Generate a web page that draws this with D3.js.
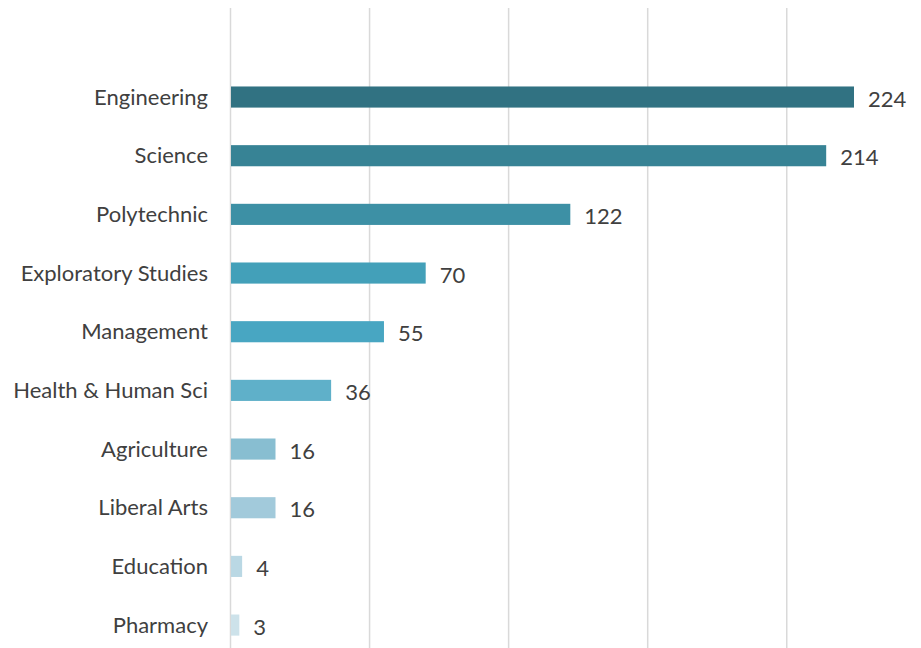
<!DOCTYPE html>
<html><head><meta charset="utf-8">
<script src="https://cdn.jsdelivr.net/npm/d3@7"></script>
<style>body{margin:0;background:#fff}svg{display:block}</style>
</head><body>
<script>
const categories = ["Engineering","Science","Polytechnic","Exploratory Studies","Management","Health & Human Sci","Agriculture","Liberal Arts","Education","Pharmacy"];
const values = [224,214,122,70,55,36,16,16,4,3];
const colors = ["#317282","#378395","#3d90a5","#43a0b9","#48a6c2","#5fb0c9","#88bed1","#a2cadb","#bad8e4","#cde2ea"];
const ticks = [0,50,100,150,200];

const W=921,H=648;
const svg=d3.select("body").append("svg").attr("width",W).attr("height",H);
const x=d3.scaleLinear().domain([0,224]).range([231,854]);
const y=d3.scaleBand().domain(categories).range([67.7,654.4]).paddingInner(0.64).paddingOuter(0.32);

svg.append("g").selectAll("line").data(ticks).join("line")
  .attr("x1",d=>x(d)-0.5).attr("x2",d=>x(d)-0.5).attr("y1",8).attr("y2",H)
  .attr("stroke","#d9d9d9").attr("stroke-width",1.5);

svg.append("g").selectAll("rect").data(categories).join("rect")
  .attr("x",x(0)).attr("y",d=>y(d)).attr("height",y.bandwidth())
  .attr("width",(d,i)=>x(values[i])-x(0)).attr("fill",(d,i)=>colors[i]);

const font="Lato, 'Open Sans', sans-serif";
svg.append("g").selectAll("text").data(categories).join("text")
  .attr("x",208).attr("y",d=>y(d)+y.bandwidth()/2).attr("dy","0.35em")
  .attr("text-anchor","end").attr("font-family",font).attr("font-size",22)
  .attr("fill","#404040").text(d=>d);

svg.append("g").selectAll("text").data(categories).join("text")
  .attr("x",(d,i)=>x(values[i])+14).attr("y",d=>y(d)+y.bandwidth()/2+2).attr("dy","0.35em")
  .attr("font-family",font).attr("font-size",22)
  .attr("fill","#404040").text((d,i)=>values[i]);
</script>
</body></html>
